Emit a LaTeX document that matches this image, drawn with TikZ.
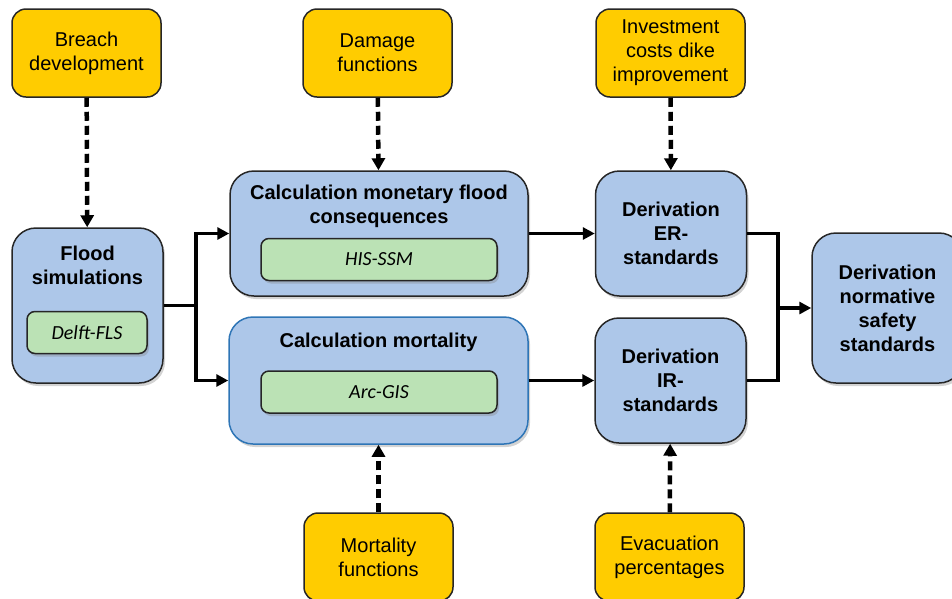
\documentclass[tikz,border=0pt]{standalone}
\usepackage{fontspec}
\setmainfont{Liberation Sans}
\newfontfamily\calibri{Carlito}
\usepackage{tikz}
\usetikzlibrary{arrows.meta, shadows}
\definecolor{dikeyellow}{RGB}{255,204,0}
\definecolor{modelblue}{RGB}{173,199,233}
\definecolor{toolgreen}{RGB}{187,226,181}
\definecolor{edgeblue}{RGB}{46,117,182}

\begin{document}
\begin{tikzpicture}[x=1pt, y=-1pt, line width=1.5pt,
    font=\fontsize{20}{24}\selectfont,
    input/.style={rectangle, rounded corners=14pt, draw=black!85, fill=dikeyellow, align=center,
      minimum width=149pt, minimum height=88pt},
    model/.style={rectangle, rounded corners=24pt, draw=black!85, fill=modelblue, align=center,
      font=\fontsize{20}{24}\selectfont\bfseries,
      drop shadow={opacity=0.35, shadow xshift=2pt, shadow yshift=-3pt}},
    tool/.style={rectangle, rounded corners=8pt, draw=black!85, fill=toolgreen, minimum height=42pt,
      font=\calibri\itshape\fontsize{20}{24}\selectfont,
      drop shadow={opacity=0.35, shadow xshift=2pt, shadow yshift=-3pt}},
    flow/.style={line width=3.5pt, -{Triangle[length=12pt, width=12pt]}},
    feed/.style={line width=4.5pt, dash pattern=on 9pt off 5pt, -{Triangle[length=12pt, width=13pt]}}]
  \useasboundingbox (0,0) rectangle (952,598);
  % inputs
  \node[input] (breach) at (86.5, 53)  {Breach\\development};
  \node[input] (damage) at (377.5, 53) {Damage\\functions};
  \node[input] (invest) at (670.5, 53) {Investment\\costs dike\\improvement};
  \node[input] (mortfun) at (378.5, 557) {Mortality\\functions};
  \node[input] (evac) at (669.5, 557)   {Evacuation\\percentages};
  % models
  \node[model, minimum width=151pt, minimum height=155pt] (flood) at (87.5, 305.5) {};
  \node[font=\fontsize{20}{24}\selectfont\bfseries, align=center] (floodtxt) at (87.5, 265) {Flood\\simulations};
  \node[tool, minimum width=120pt] (delft) at (87, 332.5) {Delft-FLS};
  \node[model, minimum width=298pt, minimum height=125pt] (money) at (379, 233.5) {};
  \node[font=\fontsize{20}{24}\selectfont\bfseries, align=center] (moneytxt) at (379, 206) {Calculation monetary flood\\consequences};
  \node[tool, minimum width=236pt] (his) at (379, 259.5) {HIS-SSM};
  \node[model, draw=edgeblue, minimum width=299pt, minimum height=127pt] (mort) at (378.5, 380.5) {};
  \node[font=\fontsize{20}{24}\selectfont\bfseries] (morttxt) at (378.5, 342) {Calculation mortality};
  \node[tool, minimum width=236pt] (arc) at (379, 392) {Arc-GIS};
  \node[model, minimum width=151pt, minimum height=125pt] (er) at (671, 233.5) {Derivation\\ER-\\standards};
  \node[model, minimum width=151pt, minimum height=125pt] (ir) at (670.5, 380.5) {Derivation\\IR-\\standards};
  \node[model, minimum width=151pt, minimum height=150pt] (norm) at (887.5, 308) {Derivation\\normative\\safety\\standards};
  % connectors
  \coordinate (split) at (196, 305.5);
  \coordinate (join) at (778, 308);
  \draw[feed] (breach) -- (flood);
  \draw[feed] (damage) -- (money);
  \draw[feed] (invest) -- (er);
  \draw[feed] (mortfun) -- (mort);
  \draw[feed] (evac) -- (ir);
  \draw[line width=3.5pt] (flood.east |- split) -- (split);
  \draw[flow] (split) |- (money.west);
  \draw[flow] (split) |- (mort.west);
  \draw[flow] (money) -- (er);
  \draw[flow] (mort) -- (ir);
  \draw[line width=3.5pt] (er.east) -| (join);
  \draw[line width=3.5pt] (ir.east) -| (join);
  \draw[flow] (join) -- (norm.west |- join);
\end{tikzpicture}
\end{document}
